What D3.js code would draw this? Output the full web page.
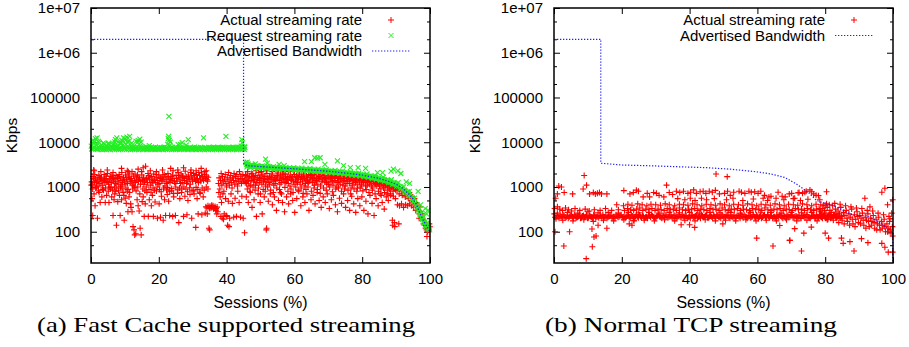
<!DOCTYPE html>
<html>
<head>
<meta charset="utf-8">
<script src="https://cdn.jsdelivr.net/npm/d3@7"></script>
<style>
  body { margin: 0; background: #fff; }
  text { font-family: "Liberation Sans", Arial, sans-serif; fill: #000; }
</style>
</head>
<body>
<div id="chart"></div>
<script>
// tick values + labels
const xTickValues = [0, 20, 40, 60, 80, 100];
const yTickValues = [100, 1000, 10000, 100000, 1000000, 10000000];
const yTickLabels = ['100', '1000', '10000', '100000', '1e+06', '1e+07'];
const yMinorTicks = [50, 200, 500, 2000, 5000, 20000, 50000, 200000, 500000, 2000000, 5000000];

const captions = ['(a) Fast Cache supported streaming', '(b) Normal TCP streaming'];
const fcLegend = ['Actual streaming rate', 'Request streaming rate', 'Advertised Bandwidth'];
const tcpLegend = ['Actual streaming rate', 'Advertised Bandwidth'];

// (a) actual streaming rate, [session %, Kbps]
const fcActual = [
  [0.2,1300],[0.4,1150],[0.6,1700],[0.8,2400],[1.0,1250],[1.3,1450],[1.5,1000],[1.8,1600],[2.0,1350],[2.3,1800],[2.6,1200],[2.8,1500],[3.1,1650],[3.3,1100],[3.6,1400],[3.9,1900],[4.1,1250],[4.4,1550],[4.7,1300],[4.9,2000],[5.2,1150],[5.5,1450],[5.8,1700],[6.0,1250],[6.3,1600],[6.6,1350],[6.9,1000],[7.1,1500],[7.4,1800],[7.7,1300],[8.0,1550],[8.2,1150],[8.5,1700],[8.8,1400],[9.1,2100],[9.3,1250],[9.6,1600],[9.9,1350],[10.2,1850],[10.5,1450],[10.8,1200],[11.1,1650],[11.3,1950],[11.6,1300],[11.9,1550],[12.2,1100],[12.5,1750],[12.8,1400],[13.1,1250],[13.4,1600],[13.7,1850],[14.0,1350],[14.3,1500],[14.6,1150],[14.9,2200],[15.2,1400],[15.5,1650],[15.8,1300],[16.1,2900],[16.4,1550],[16.7,1250],[17.0,1800],[17.3,1450],[17.6,1100],[17.9,1700],[18.2,1350],[18.5,1950],[18.8,1500],[19.1,1250],[19.4,1650],[19.7,1400],[20.0,1850],[20.3,1200],[20.6,1550],[20.9,1350],[21.2,1750],[21.5,1450],[21.8,1050],[22.1,1600],[22.4,1300],[22.7,2000],[23.0,1500],[23.3,1250],[23.6,1700],[23.9,1400],[24.2,2300],[24.5,1550],[24.8,1200],[25.1,1800],[25.4,1350],[25.7,2100],[26.0,1650],[26.3,1450],[26.6,1950],[26.9,1250],[27.2,1600],[27.5,1400],[27.8,2250],[28.1,1700],[28.4,1300],[28.7,1850],[29.0,1500],[29.3,1150],[29.6,1750],[29.9,1450],[30.2,2000],[30.5,1600],[30.8,1350],[31.1,1900],[31.4,1550],[31.7,1250],[32.0,1800],[32.3,1500],[32.6,2050],[32.9,1650],[33.2,1400],[33.5,1900],[33.8,1550],[34.1,1750],[34.4,1350],
  [0.1,1100],[0.7,1550],[1.1,1900],[1.6,1250],[2.1,1050],[2.5,1650],[3.0,1350],[3.5,950],[4.0,1500],[4.5,1750],[5.0,1350],[5.4,1000],[6.2,1850],[6.7,1550],[7.2,1200],[7.8,1650],[8.3,1900],[8.9,1050],[9.4,1450],[10.0,1150],[10.6,1650],[11.0,2200],[11.5,1500],[12.0,1350],[12.6,1050],[13.0,1950],[13.5,1450],[14.1,1650],[14.7,1350],[15.0,1850],[15.6,1150],[16.2,1450],[16.8,2000],[17.4,1650],[18.0,1250],[18.6,1400],[19.2,1900],[19.8,1150],[20.4,1650],[21.0,1450],[21.6,1900],[22.2,1200],[22.8,1700],[23.4,1450],[24.0,1850],[24.6,1300],[25.2,1550],[25.8,1800],[26.4,1200],[27.0,1750],[27.6,1550],[28.2,1200],[28.8,1600],[29.4,2100],[30.0,1350],[30.6,1800],[31.2,1450],[31.8,2100],[32.4,1350],[33.0,1700],[33.6,2200],[34.2,1450],[34.6,1650],
  [0.5,900],[1.7,1000],[2.4,750],[3.4,880],[4.3,950],[5.1,800],[5.9,980],[6.4,850],[7.0,700],[7.6,950],[8.1,820],[8.7,1000],[9.2,900],[9.7,650],[10.3,950],[10.9,880],[11.4,750],[12.3,900],[12.9,980],[13.3,820],[13.8,1000],[14.4,700],[15.3,900],[15.9,820],[16.3,1000],[17.1,880],[17.7,760],[18.3,950],[18.7,850],[19.5,1000],[20.2,880],[20.7,780],[21.4,950],[22.3,860],[22.6,980],[23.1,800],[23.8,920],[24.3,720],[25.0,1000],[25.6,860],[26.1,950],[26.7,750],[27.4,1000],[28.0,900],[28.5,780],[29.1,960],[29.8,850],[30.4,700],[31.0,980],[31.5,880],[32.1,760],[32.8,950],[33.4,850],[34.0,1000],[34.5,900],
  [0.9,2300],[2.9,2200],[4.8,2400],[6.5,2100],[9.0,2600],[10.7,2300],[12.1,2200],[13.9,2500],[15.4,2700],[17.5,2300],[19.3,2200],[21.1,2400],[23.5,2600],[25.6,2400],[27.3,2700],[29.5,2400],[31.0,2300],[32.5,2600],[34.0,2300],
  [0.3,550],[0.5,230],[0.9,700],[1.2,380],[1.4,950],[1.9,200],[2.2,820],[2.7,450],[3.2,600],[3.7,850],[4.2,450],[4.6,650],[5.3,450],[5.7,900],[6.1,600],[6.5,230],[6.8,520],[7.3,800],[7.5,140],[7.9,470],[8.4,650],[8.6,230],[9.0,520],[9.5,750],[9.8,180],[10.1,560],[10.4,430],[10.7,800],[10.9,280],[11.2,600],[11.7,420],[11.8,350],[12.1,280],[12.4,130],[12.7,110],[12.9,85],[13.2,90],[13.6,520],[13.9,380],[14.2,290],[14.5,120],[14.8,85],[15.1,470],[15.4,600],[15.7,220],[16.0,420],[16.5,750],[16.9,220],[17.2,520],[17.8,380],[18.1,650],[18.4,220],[18.9,460],[19.3,810],[19.6,200],[20.1,420],[20.5,210],[20.8,620],[21.3,180],[21.7,520],[22.0,230],[22.5,680],[22.9,480],[23.2,230],[23.7,820],[24.1,220],[24.4,600],[24.9,230],[25.5,720],[25.9,160],[26.2,550],[26.8,900],[27.3,220],[27.7,620],[28.3,240],[28.6,500],[29.2,680],[29.7,200],[30.3,820],[30.9,125],[31.3,550],[31.6,250],[32.2,720],[32.7,240],[33.1,600],[33.7,260],[34.3,250],[34.8,120],[35.0,110],
  [33.9,360],[34.2,340],[34.5,380],[34.8,350],[35.1,370],[35.4,340],[35.7,360],[36.0,380],[36.3,345],[36.6,365],[36.9,330],[37.2,355],[35.0,330],[35.6,390],[36.2,320],[36.8,300],[37.4,280],[37.1,250],
  [37.6,1200],[37.8,1600],[38.0,900],[38.2,1400],[38.4,2000],[38.6,1100],[38.8,1700],[39.0,1300],[39.2,800],[39.4,1500],[39.6,1900],[39.8,1200],[40.0,1000],[40.2,1650],[40.4,1350],[40.6,2100],[40.8,1100],[41.0,1500],[41.2,1800],[41.4,1250],[41.6,950],[41.8,1600],[42.0,1400],[42.2,2000],[42.4,1150],[42.6,1700],[42.8,1350],[43.0,1900],[43.2,1050],[43.4,1550],[43.6,1300],[43.8,2200],[44.0,1450],[44.2,1750],[44.4,1200],[44.6,1550],[44.8,1900],[45.0,1350],
  [37.7,750],[38.1,600],[38.5,450],[38.9,700],[39.3,250],[39.7,550],[40.1,220],[40.5,480],[40.3,140],[40.7,130],[40.9,200],[41.3,700],[41.7,430],[42.1,210],[42.5,560],[42.9,220],[43.3,800],[43.7,450],[44.1,210],[44.5,620],[44.9,200],[45.3,95],[38.3,220],[38.7,200],[39.1,190],[39.9,230],
  [45.4,1500],[45.6,1900],[45.9,1200],[46.2,2200],[46.5,1400],[46.8,1700],[47.1,1100],[47.4,1600],[47.7,1950],[48.0,1300],[48.3,1500],[48.6,1800],[48.9,1250],[49.2,1650],[49.5,2100],[49.8,1400],[50.1,1550],[50.4,1150],[50.7,1850],[51.0,1450],[51.3,1700],[51.6,1300],[51.9,2000],[52.2,1500],[52.5,1250],[52.8,1750],[53.1,1450],[53.4,1950],[53.7,1350],[54.0,1600],[54.3,1200],[54.6,1800],[54.9,1500],[55.2,2050],[55.5,1400],[55.8,1650],[56.1,1250],[56.4,1850],[56.7,1550],[57.0,1350],[57.3,1950],[57.6,1500],[57.9,1700],[58.2,1200],[58.5,1600],[58.8,1850],[59.1,1400],[59.4,1650],[59.7,1300],[60.0,1900],[60.3,1500],[60.6,1750],[60.9,1250],[61.2,1600],[61.5,1950],[61.8,1450],[62.1,1700],[62.4,1300],[62.7,1850],[63.0,1550],[63.3,1200],[63.6,1750],[63.9,1450],[64.2,1900],[64.5,1350],[64.8,1600],[65.1,1800],[65.4,1250],[65.7,1550],[66.0,1850],[66.3,1400],[66.6,1650],[66.9,1150],[67.2,1750],[67.5,1500],[67.8,1900],[68.1,1300],[68.4,1600],[68.7,1800],[69.0,1350],[69.3,1550],[69.6,1150],[69.9,1750],[70.2,1450],[70.5,1850],[70.8,1300],[71.1,1600],[71.4,1100],[71.7,1700],[72.0,1400],[72.3,1800],[72.6,1250],[72.9,1550],[73.2,1700],[73.5,1150],[73.8,1450],[74.1,1750],[74.4,1300],[74.7,1550],[75.0,1050],[75.3,1650],[75.6,1350],[75.9,1700],[76.2,1200],[76.5,1500],[76.8,1650],[77.1,1100],[77.4,1400],[77.7,1600],[78.0,1250],[78.3,1500],[78.6,950],[78.9,1550],[79.2,1300],[79.5,1600],[79.8,1150],[80.1,1450],[80.4,1350],[80.7,1550],[81.0,1050],[81.3,1400],[81.6,1250],[81.9,1500],[82.2,1150],[82.5,1350],[82.8,1450],[83.1,950],[83.4,1300],[83.7,1200],[84.0,1400],[84.3,1050],[84.6,1300],[84.9,1150],[85.2,1350],[85.5,900],[85.8,1250],[86.1,1100],[86.4,1300],[86.7,1000],[87.0,1200],[87.3,1100],[87.6,850],[87.9,1150],[88.2,1050],[88.5,950],[88.8,1100],[89.1,800],[89.4,1000],[89.7,900],
  [45.5,1250],[46.0,1650],[46.6,1050],[47.2,1400],[47.9,1700],[48.5,1100],[49.0,1450],[49.6,1250],[50.2,1850],[50.9,1300],[51.5,1050],[52.0,1550],[52.7,1150],[53.3,1650],[53.9,1100],[54.5,1400],[55.0,1750],[55.7,1150],[56.3,1500],[56.9,1950],[57.5,1250],[58.0,1450],[58.7,1050],[59.3,1700],[59.9,1150],[60.5,1350],[61.0,1650],[61.7,1150],[62.3,1500],[62.9,1050],[63.5,1400],[64.1,1250],[64.7,1850],[65.3,1500],[65.9,1100],[66.5,1350],[67.1,1550],[67.7,1050],[68.3,1450],[68.9,1650],[69.5,1250],[70.1,1150],[70.7,1600],[71.3,1350],[71.9,1550],[72.5,1000],[73.1,1350],[73.7,1550],[74.3,1100],[74.9,1400],[75.5,1200],[76.1,1450],[76.7,950],[77.3,1300],[77.9,1450],[78.5,1150],[79.1,1400],[79.7,1050],[80.3,1250],[80.9,1500],[81.5,1100],[82.1,1300],[82.7,1050],[83.3,1350],[83.9,1150],[84.5,1250],[85.1,1050],[85.7,1200],[86.3,950],[86.9,1100],[87.5,1000],[88.1,900],[88.7,1000],[89.3,950],[89.9,850],
  [45.7,1800],[46.3,1350],[47.3,2000],[48.1,1450],[48.7,2300],[49.7,1600],[50.3,2200],[51.2,1550],[51.7,2300],[52.6,1650],[53.5,2200],[54.2,1500],[55.1,2300],[55.9,1850],[56.6,2200],[57.4,1650],[58.3,2200],[59.0,1500],[59.8,2250],[60.7,1650],[61.4,2200],[62.2,1850],[63.1,2250],[63.8,1650],[64.6,2200],[65.5,1900],[66.4,2250],[67.3,1700],[68.2,2100],[69.1,1600],[70.0,2100],[70.9,1750],[71.8,2000],[72.7,1650],[73.6,2000],[74.5,1800],[75.4,1950],[76.3,1600],[77.2,1900],[78.1,1700],[79.0,1800],[79.9,1500],[80.8,1750],[81.7,1600],[82.6,1700],[83.5,1500],[84.4,1600],[85.3,1450],[86.2,1500],[87.1,1400],[88.0,1350],[88.9,1250],[89.8,1200],
  [46.1,900],[47.0,750],[47.8,1000],[48.4,850],[49.4,950],[50.0,700],[50.8,880],[51.4,800],[52.1,1000],[53.0,850],[53.8,750],[54.8,950],[55.6,880],[56.2,700],[57.2,980],[58.1,800],[59.0,900],[59.6,750],[60.4,1000],[61.1,850],[62.0,950],[62.6,720],[63.4,880],[64.0,1000],[65.0,800],[65.8,950],[66.8,880],[67.6,720],[68.6,950],[69.4,850],[70.4,1000],[71.2,780],[72.2,900],[73.0,950],[73.9,800],[74.8,900],[75.8,850],[76.6,700],[77.6,900],[78.4,800],[79.4,950],[80.2,820],[81.2,880],[82.0,750],[83.0,850],[83.8,700],[84.8,800],[85.6,650],[86.6,750],[87.4,700],[88.4,650],[89.2,620],
  [45.8,600],[46.4,450],[46.9,800],[47.5,350],[48.1,520],[48.8,220],[49.3,700],[49.9,450],[50.5,250],[51.1,600],[51.7,110],[51.8,120],[52.3,480],[52.9,700],[53.5,400],[54.1,600],[54.7,300],[55.3,500],[55.9,750],[56.5,450],[57.1,280],[57.7,600],[58.3,420],[58.9,700],[59.5,500],[60.1,270],[60.7,550],[61.3,800],[61.9,380],[62.5,600],[63.1,450],[63.7,700],[64.3,300],[64.9,520],[65.5,650],[66.1,420],[66.7,750],[67.3,500],[67.9,350],[68.5,600],[69.1,450],[69.7,700],[70.3,330],[70.9,520],[71.5,650],[72.1,400],[72.7,280],[73.3,560],[73.9,430],[74.5,700],[75.1,350],[75.7,500],[76.3,300],[76.9,620],[77.5,420],[78.1,270],[78.7,550],[79.3,380],[79.9,600],[80.5,300],[81.1,480],[81.7,250],[82.3,650],[82.9,430],[83.5,230],[84.1,550],[84.7,380],[85.3,700],[85.9,450],[86.5,320],[87.1,600],[87.7,500],[88.3,700],[88.9,180],[89.5,160],[89.8,550],
  [90.0,1000],[90.3,850],[90.6,950],[90.9,700],[91.2,900],[91.5,800],[91.8,650],[92.1,850],[92.4,750],[92.7,600],[93.0,800],[93.3,700],[93.6,550],[93.9,750],[94.2,650],[94.5,500],[94.8,600],[95.1,450],[95.4,550],[95.7,400],[96.0,450],[96.3,350],[96.6,300],[96.9,250],[97.2,280],[97.5,200],[97.8,180],[98.1,150],[98.4,140],[98.7,120],[99.0,110],[99.3,100],[99.6,110],[99.9,130],
  [90.4,400],[91.0,380],[91.6,420],[92.2,350],[92.8,400],[93.4,380],[94.0,420],[94.6,380],[95.2,350],[95.8,300],[96.4,380],[97.0,360],[97.6,250],[98.0,190],[98.5,160],[99.1,78],[99.4,140],[99.8,150],[89.0,140],[89.6,130],[90.8,150],[96.8,200]
];

// (a) requested streaming rate
const fcRequest = [
  [0.1,8200],[0.4,7400],[0.7,9500],[1.0,7800],[1.3,12000],[1.6,8600],[1.9,7200],[2.2,10500],[2.5,7600],[2.8,8100],[3.1,7300],[3.4,7900],[3.7,7100],[4.0,9200],[4.3,7500],[4.6,8400],[4.9,7700],[5.2,9600],[5.5,7200],[5.8,8000],[6.1,7400],[6.4,8800],[6.7,7600],[7.0,10200],[7.3,7900],[7.6,12500],[7.9,8300],[8.2,7300],[8.5,9500],[8.8,7700],[9.1,11000],[9.4,8600],[9.7,7400],[10.0,12000],[10.3,9000],[10.6,13000],[10.9,8000],[11.2,10500],[11.5,7500],[11.8,8200],[12.1,7300],[12.4,7800],[12.7,7200],[13.0,7600],[13.3,10500],[13.6,7900],[13.9,11000],[14.2,7400],[14.5,8300],[14.8,10000],[15.1,7600],[15.4,7100],[15.7,7700],[16.0,7300],[16.3,7900],[16.6,7200],[16.9,7500],[17.2,8400],[17.5,7300],[17.8,7700],[18.1,7100],[18.4,7600],[18.7,7300],[19.0,7800],[19.3,7200],[19.6,7500],[19.9,7100],[20.2,7700],[20.5,7300],[20.8,7600],[21.1,7200],[21.4,7500],[21.7,7800],[22.0,7300],[22.3,7600],[22.6,9000],[22.9,13500],[23.0,38000],[23.1,11000],[23.3,8500],[23.6,7400],[23.9,7700],[24.2,7200],[24.5,7500],[24.8,7300],[25.1,7800],[25.4,7100],[25.7,8800],[26.0,7400],[26.3,7700],[26.6,7300],[26.9,9800],[27.2,7600],[27.5,7200],[27.8,7500],[28.1,8600],[28.4,7300],[28.7,11500],[29.0,7400],[29.3,7700],[29.6,7200],[29.9,7500],[30.2,7300],[30.5,7800],[30.8,7100],[31.1,7600],[31.4,7300],[31.7,7500],[32.0,7200],[32.3,7700],[32.6,7400],[32.9,7300],[33.2,12500],[33.5,7600],[33.8,7300],[34.1,7500],[34.4,7200],[34.7,7700],[35.0,7400],[35.3,7600],[35.6,7300],[35.9,7500],[36.2,7800],[36.5,7400],[36.8,7600],[37.1,7300],[37.4,7700],[37.7,7500],[38.0,7200],[38.3,7600],[38.6,7400],[38.9,7800],[39.2,7300],[39.5,7600],[39.8,13500],[40.1,7500],[40.4,7300],[40.7,7700],[41.0,7400],[41.3,7600],[41.6,7200],[41.9,7800],[42.2,7500],[42.5,7300],[42.8,7700],[43.1,7400],[43.4,7600],[43.7,7800],[44.0,7500],[44.3,8200],[44.6,9800],[44.9,7600],[45.2,7900],[45.4,7700],
  [0.2,7000],[0.9,7300],[1.5,7100],[2.0,6900],[2.7,7000],[3.3,6800],[3.9,7000],[4.5,6900],[5.1,7000],[5.7,6800],[6.3,7100],[6.9,6900],[7.5,7000],[8.1,6800],[8.7,7000],[9.3,6900],[9.9,7100],[10.5,6900],[11.1,7000],[11.7,6800],[12.3,7000],[12.9,6900],[13.5,7000],[14.1,6800],[14.7,7000],[15.3,6900],[15.9,7000],[16.5,6800],[17.1,7000],[17.7,6900],[18.3,7000],[18.9,6800],[19.5,7000],[20.1,6900],[20.7,7000],[21.3,6800],[21.9,7000],[22.5,6900],[23.2,7000],[23.8,6800],[24.4,7000],[25.0,6900],[25.6,7000],[26.2,6800],[26.8,7000],[27.4,6900],[28.0,7000],[28.6,6800],[29.2,7000],[29.8,6900],[30.4,7000],[31.0,6800],[31.6,7000],[32.2,6900],[32.8,7000],[33.4,6800],[34.0,7000],[34.6,6900],[35.2,7000],[35.8,6800],[36.4,7000],[37.0,6900],[37.6,7000],[38.2,6800],[38.8,7000],[39.4,6900],[40.0,7000],[40.6,6800],[41.2,7000],[41.8,6900],[42.4,7000],[43.0,6800],[43.6,7000],[44.2,6900],[44.8,7000],[45.3,6900],
  [0.5,11000],[1.1,10500],[1.8,12500],[2.4,9800],[3.6,9500],[5.3,8900],[6.8,9200],[7.2,11500],[8.0,10000],[9.0,9700],[9.6,12500],[10.2,11000],[10.8,10200],[11.4,13500],[12.0,9500],[13.8,10000],[14.4,11800],[22.8,12000],[23.4,10000],[44.5,11500],[26.4,9000],
  [45.6,3500],[45.9,3200],[46.2,3100],[46.5,3000],[46.8,2950],[47.1,3050],[47.4,2900],[47.7,2950],[48.0,2900],[48.4,2850],[48.8,2900],[49.2,2850],[49.6,2800],[50.0,2850],[50.4,2800],[50.8,2750],[51.2,2800],[51.6,2750],[52.0,2750],[52.4,2700],[52.8,2750],[53.2,2700],[53.6,2700],[54.0,2650],[54.4,2700],[54.8,2650],[55.2,2650],[55.6,2650],[56.0,2600],[56.4,2650],[56.8,2600],[57.2,2600],[57.6,2600],[58.0,2550],[58.4,2600],[58.8,2550],[59.2,2550],[59.6,2550],[60.0,2500],[60.4,2550],[60.8,2500],[61.2,2500],[61.6,2500],[62.0,2450],[62.4,2500],[62.8,2450],[63.2,2450],[63.6,2400],[64.0,2450],[64.4,2400],[64.8,2400],[65.2,2400],[65.6,2350],[66.0,2400],[66.4,2350],[66.8,2350],[67.2,2300],[67.6,2350],[68.0,2300],[68.4,2300],[68.8,2250],[69.2,2300],[69.6,2250],[70.0,2250],[70.4,2200],[70.8,2250],[71.2,2200],[71.6,2200],[72.0,2150],[72.4,2200],[72.8,2150],[73.2,2100],[73.6,2150],[74.0,2100],[74.4,2100],[74.8,2050],[75.2,2050],[75.6,2000],[76.0,2050],[76.4,2000],[76.8,1950],[77.2,2000],[77.6,1950],[78.0,1900],[78.4,1950],[78.8,1900],[79.2,1850],[79.6,1900],[80.0,1850],[80.4,1800],[80.8,1800],[81.2,1750],[81.6,1750],[82.0,1700],[82.4,1700],[82.8,1650],[83.2,1650],[83.6,1600],[84.0,1600],[84.4,1550],[84.8,1550],[85.2,1500],[85.6,1500],[86.0,1450],[86.4,1450],[86.8,1400],[87.2,1380],[87.6,1350],[88.0,1300],[88.4,1280],[88.8,1250],[89.2,1200],[89.6,1180],[90.0,1150],[90.4,1100],[90.8,1050],[91.2,1000],[91.6,950],[92.0,900],[92.4,850],[92.8,800],[93.2,760],[93.6,700],[94.0,650],[94.4,600],[94.8,540],[95.2,480],[95.6,430],[96.0,390],[96.3,350],[96.6,310],[96.9,270],[97.2,240],[97.5,210],[97.8,190],[98.1,170],[98.4,155],[98.7,140],[99.0,130],[99.3,120],[99.6,115],[99.9,110],
  [46.0,2800],[47.0,2750],[48.2,2700],[49.4,2650],[50.6,2600],[51.8,2600],[53.0,2550],[54.2,2500],[55.4,2500],[56.6,2450],[57.8,2450],[59.0,2400],[60.2,2350],[61.4,2350],[62.6,2300],[63.8,2300],[65.0,2250],[66.2,2200],[67.4,2200],[68.6,2150],[69.8,2100],[71.0,2100],[72.2,2050],[73.4,2000],[74.6,1950],[75.8,1900],[77.0,1850],[78.2,1800],[79.4,1750],[80.6,1700],[81.8,1650],[83.0,1550],[84.2,1500],[85.4,1400],[86.6,1350],[87.8,1250],[89.0,1150],[90.2,1050],[91.4,930],[92.6,780],[93.8,640],[95.0,470],[96.2,340],[97.0,250],[97.7,195],[98.3,160],[99.0,140],[99.7,120],
  [46.3,3300],[47.5,3100],[49.0,3000],[50.5,2950],[52.2,2900],[53.8,2850],[55.8,2800],[57.5,2750],[59.8,2700],[62.2,2650],[64.6,2600],[67.0,2500],[69.4,2450],[72.0,2350],[74.2,2250],[76.6,2150],[79.0,2050],[81.4,1950],[83.8,1800],[86.2,1650],[88.6,1450],[90.6,1250],[92.2,1000],[93.9,800],[95.4,560],[96.8,330],[98.0,220],[99.2,160],
  [46.1,3600],[48.5,3300],[51.5,4200],[52.0,3400],[55.5,3200],[57.0,3000],[63.0,3700],[65.0,3700],[66.0,4500],[66.8,4400],[67.6,4500],[69.0,3200],[72.7,3850],[74.5,3000],[76.5,2700],[78.8,2700],[81.0,2600],[84.5,2100],[86.0,2100],[88.5,2250],[89.2,2500],[90.5,2300],[91.4,2000],[93.0,1300],[94.0,1200],[96.5,800],[97.2,400],[98.6,330],[99.4,300],[99.0,250]
];

// (a) advertised bandwidth
const fcBandwidth = [
  [0,2000000],[45,2000000],[45,3400],[46,3000],[50,2850],[60,2550],[70,2250],[75,2050],[80,1850],[85,1550],[88,1320],[90,1150],[92,930],[94,660],[95,540],[96,400],[97,260],[98,180],[99,135],[100,100]
];

// (b) actual streaming rate
const tcpActual = [
  [0.3,210],[0.9,230],[1.5,200],[2.1,220],[2.7,240],[3.3,205],[3.9,225],[4.5,215],[5.1,235],[5.7,200],[6.3,220],[6.9,210],[7.5,245],[8.1,205],[8.7,230],[9.3,215],[9.9,200],[10.5,225],[11.1,210],[11.7,240],[12.3,205],[12.9,220],[13.5,230],[14.1,200],[14.7,215],[15.3,235],[15.9,210],[16.5,225],[17.1,200],[17.7,220],[18.3,240],[18.9,210],[19.5,230],[20.1,205],[20.7,220],[21.3,215],[21.9,235],[22.5,200],[23.1,225],[23.7,210],[24.3,240],[24.9,205],[25.5,220],[26.1,230],[26.7,200],[27.3,215],[27.9,235],[28.5,210],[29.1,225],[29.7,200],[30.3,220],[30.9,240],[31.5,210],[32.1,230],[32.7,205],[33.3,220],[33.9,215],[34.5,235],[35.1,200],[35.7,225],[36.3,210],[36.9,240],[37.5,205],[38.1,220],[38.7,230],[39.3,200],[39.9,215],[40.5,235],[41.1,210],[41.7,225],[42.3,200],[42.9,220],[43.5,240],[44.1,210],[44.7,230],[45.3,205],[45.9,220],[46.5,215],[47.1,235],[47.7,200],[48.3,225],[48.9,210],[49.5,240],[50.1,205],[50.7,220],[51.3,230],[51.9,200],[52.5,215],[53.1,235],[53.7,210],[54.3,225],[54.9,200],[55.5,220],[56.1,240],[56.7,210],[57.3,230],[57.9,205],[58.5,220],[59.1,215],[59.7,235],[60.3,200],[60.9,225],[61.5,210],[62.1,240],[62.7,205],[63.3,220],[63.9,230],[64.5,200],[65.1,215],[65.7,235],[66.3,210],[66.9,225],[67.5,200],[68.1,220],[68.7,240],[69.3,210],[69.9,230],[70.5,205],[71.1,220],[71.7,215],[72.3,235],[72.9,200],[73.5,225],[74.1,210],[74.7,240],[75.3,205],[75.9,220],[76.5,230],[77.1,200],[77.7,215],[78.3,235],[78.9,210],[79.5,225],[80.1,200],[80.7,220],[81.3,240],[81.9,210],[82.5,230],[83.1,205],[83.7,220],[84.3,215],
  [0.6,195],[1.2,215],[1.8,240],[2.4,205],[3.0,225],[3.6,210],[4.2,200],[4.8,230],[5.4,215],[6.0,240],[6.6,205],[7.2,220],[7.8,200],[8.4,225],[9.0,210],[9.6,235],[10.2,205],[10.8,220],[11.4,200],[12.0,230],[12.6,215],[13.2,205],[13.8,225],[14.4,240],[15.0,210],[15.6,200],[16.2,220],[16.8,235],[17.4,210],[18.0,200],[18.6,225],[19.2,215],[19.8,240],[20.4,210],[21.0,200],[21.6,225],[22.2,210],[22.8,240],[23.4,200],[24.0,220],[24.6,215],[25.2,235],[25.8,205],[26.4,220],[27.0,210],[27.6,200],[28.2,225],[28.8,240],[29.4,210],[30.0,205],[30.6,230],[31.2,215],[31.8,200],[32.4,225],[33.0,240],[33.6,205],[34.2,220],[34.8,210],[35.4,235],[36.0,200],[36.6,220],[37.2,215],[37.8,240],[38.4,205],[39.0,225],[39.6,210],[40.2,200],[40.8,230],[41.4,215],[42.0,240],[42.6,210],[43.2,200],[43.8,225],[44.4,215],[45.0,235],[45.6,205],[46.2,225],[46.8,200],[47.4,220],[48.0,240],[48.6,210],[49.2,200],[49.8,225],[50.4,215],[51.0,240],[51.6,205],[52.2,225],[52.8,210],[53.4,200],[54.0,230],[54.6,215],[55.2,240],[55.8,205],[56.4,220],[57.0,200],[57.6,225],[58.2,210],[58.8,240],[59.4,205],[60.0,220],[60.6,215],[61.2,200],[61.8,230],[62.4,210],[63.0,240],[63.6,205],[64.2,225],[64.8,215],[65.4,200],[66.0,220],[66.6,240],[67.2,210],[67.8,230],[68.4,200],[69.0,225],[69.6,215],[70.2,240],[70.8,205],[71.4,225],[72.0,210],[72.6,200],[73.2,230],[73.8,215],[74.4,240],[75.0,210],[75.6,200],[76.2,225],[76.8,215],[77.4,240],[78.0,205],[78.6,220],[79.2,210],[79.8,235],[80.4,205],[81.0,225],[81.6,200],[82.2,215],[82.8,240],[83.4,210],[84.0,225],[84.6,200],
  [1.0,260],[2.6,180],[4.0,270],[5.6,175],[7.0,260],[8.8,185],[10.0,280],[11.6,170],[13.0,265],[14.6,180],[16.0,270],[17.6,175],[19.0,260],[20.6,185],[22.0,270],[23.6,175],[25.0,265],[26.6,180],[28.0,270],[29.6,175],[31.0,260],[32.6,185],[34.0,270],[35.6,175],[37.0,265],[38.6,180],[40.0,270],[41.6,175],[43.0,260],[44.6,185],[46.0,270],[47.6,175],[49.0,265],[50.6,180],[52.0,270],[53.6,175],[55.0,260],[56.6,185],[58.0,270],[59.6,175],[61.0,265],[62.6,180],[64.0,270],[65.6,175],[67.0,260],[68.6,185],[70.0,270],[71.6,175],[73.0,265],[74.6,180],[76.0,270],[77.6,175],[79.0,260],[80.6,185],
  [0.2,330],[1.0,360],[1.7,320],[2.5,300],[3.4,340],[4.3,310],[5.2,290],[6.2,330],[7.6,300],[9.2,320],[10.4,290],[11.9,310],[13.6,300],[15.2,330],[17.0,300],[19.0,310],[20.8,300],[21.7,330],[22.6,310],[23.5,300],[24.4,320],[25.3,340],[26.2,300],[27.1,320],[28.0,310],[28.9,330],[29.8,300],[30.7,320],[31.6,310],[32.5,300],[33.4,330],[34.3,310],[35.2,320],[36.1,300],[37.0,340],[37.9,310],[38.8,300],[39.7,320],[40.6,310],[41.5,330],[42.4,300],[43.3,320],[44.2,310],[45.1,300],[46.0,330],[46.9,310],[47.8,320],[48.7,300],[49.6,340],[50.5,310],[51.4,300],[52.3,320],[53.2,310],[54.1,330],[55.0,300],[55.9,320],[56.8,310],[57.7,300],[58.6,330],[59.5,310],[60.4,320],[61.3,300],[62.2,340],[63.1,310],[64.0,300],[64.9,320],[65.8,310],[66.7,330],[67.6,300],[68.5,320],[69.4,310],[70.3,300],[71.2,330],[72.1,310],[73.0,320],[73.9,300],[74.8,330],[75.7,310],[76.6,300],[77.5,320],[78.4,310],[79.3,330],
  [18.5,400],[20.5,380],[21.8,410],[23.0,390],[24.7,420],[26.0,400],[27.4,380],[28.6,410],[30.0,400],[31.4,390],[32.8,420],[34.0,400],[35.6,380],[37.0,410],[38.2,400],[39.5,390],[40.9,420],[42.2,400],[43.6,380],[44.9,410],[46.3,400],[47.6,390],[49.0,420],[50.3,400],[51.7,380],[53.0,410],[54.4,400],[55.7,390],[57.1,420],[58.4,400],[59.8,380],[61.1,410],[62.5,400],[63.8,390],[65.2,420],[66.5,400],[67.9,380],[69.2,410],[70.6,400],[71.9,390],[73.3,420],[74.6,400],[76.0,380],[77.3,410],[78.7,400],[80.0,390],
  [0.5,560],[1.0,700],[1.4,1050],[2.2,1000],[3.0,750],[5.5,700],[8.6,900],[8.9,1800],[9.6,1100],[10.5,700],[11.6,750],[12.2,700],[12.8,720],[13.4,750],[14.0,700],[15.6,700],[20.6,830],[22.4,700],[23.4,750],[24.3,850],[24.9,800],[26.3,600],[27.5,720],[28.2,600],[29.4,750],[30.2,720],[31.0,650],[32.4,600],[33.2,1100],[34.0,750],[35.0,680],[36.1,800],[37.1,750],[38.2,800],[39.5,720],[40.3,760],[41.2,860],[42.0,720],[43.1,780],[44.0,800],[44.8,720],[45.8,800],[46.7,760],[47.6,840],[47.8,1950],[48.8,700],[50.3,720],[51.1,1700],[51.2,800],[52.0,650],[53.0,760],[54.6,800],[55.3,760],[56.3,720],[57.5,800],[58.2,760],[59.2,780],[60.2,720],[61.0,800],[62.1,650],[63.4,600],[64.0,620],[66.1,760],[67.3,620],[68.2,600],[69.4,700],[70.1,720],[71.0,560],[72.3,750],[73.3,720],[74.4,800],[75.5,860],[76.6,700],[77.3,650],[78.0,640],
  [36.5,550],[38.6,520],[40.2,560],[41.6,500],[43.5,560],[45.0,520],[47.3,550],[50.9,520],[52.8,560],[55.7,500],[58.8,540],[61.7,560],[63.0,500],[65.5,560],[67.8,520],[70.6,550],[72.7,500],[74.9,530],[78.4,520],
  [0.1,250],[0.3,100],[2.9,48],[4.6,100],[9.5,25],[11.3,46],[11.2,115],[11.8,76],[12.4,80],[13.0,140],[15.6,120],[22.2,150],[23.0,140],[23.5,180],[37.5,143],[40.0,143],[41.5,125],[49.8,150],[59.8,72],[64.6,48],[66.6,138],[69.5,64],[69.6,64],[71.0,117],[73.0,37],[73.7,93],[75.9,127],[80.0,93],[81.0,72],
  [78.2,330],[78.6,280],[79.0,240],[79.4,380],[79.8,300],[80.2,260],[80.6,350],[81.0,220],[81.4,300],[81.8,270],[82.2,380],[82.6,240],[83.0,320],[83.4,200],[83.8,290],[84.2,250],[84.6,350],[85.0,180],[85.4,270],[85.8,230],[86.2,300],[86.6,170],[87.0,250],[87.4,210],[87.8,320],[88.2,150],[88.6,240],[89.0,190],[89.4,280],[89.8,160],[90.2,230],[90.6,200],[91.0,260],[91.4,140],[91.8,210],[92.2,180],[92.6,250],[93.0,130],[93.4,200],[93.8,170],[94.2,230],[94.6,120],[95.0,190],[95.4,150],[95.8,210],[96.2,110],[96.6,170],[97.0,140],[97.4,190],[97.8,100],[98.2,150],[98.6,120],[99.0,170],[99.4,90],[99.8,130],
  [78.4,220],[79.2,200],[80.0,210],[80.8,190],[81.6,230],[82.4,180],[83.2,260],[84.0,160],[84.8,220],[85.6,150],[86.4,200],[87.2,140],[88.0,190],[88.8,130],[89.6,220],[90.4,150],[91.2,180],[92.0,120],[92.8,170],[93.6,140],[94.4,160],[95.2,110],[96.0,140],[96.8,120],[97.6,130],[98.4,100],[99.2,110],[99.9,80],
  [80.4,420],[81.2,400],[82.8,430],[84.4,410],[86.0,380],[87.6,360],[89.2,340],[90.8,330],[92.4,300],[94.0,290],[95.6,260],[97.2,240],[98.8,220],[99.6,260],
  [84.8,72],[85.3,55],[87.3,60],[88.5,37],[90.7,70],[92.6,57],[96.7,55],[97.6,45],[98.6,35],[91.7,560],[93.2,360],[96.7,760],[97.6,935],[99.9,520],[98.4,400],[99.1,195],[99.9,35],[80.4,785],[76.0,780],[74.0,760],[72.0,740]
];

// (b) advertised bandwidth
const tcpBandwidth = [
  [0,2000000],[13.8,2000000],[13.8,3400],[20,3100],[30,2950],[37,2825],[45,2700],[52,2500],[59.7,2190],[64,1950],[68,1640],[71.5,1170],[75,760],[77.4,500],[80,430],[82.3,385],[85.3,300],[88.3,232],[92.2,226],[95.2,178],[98.6,117],[99.9,100],[100,21]
];

const width = 909;
const height = 347;
const plotTop = 8, plotBottom = 263;

const svg = d3.select('#chart').append('svg')
  .attr('width', width)
  .attr('height', height);

const y = d3.scaleLog().domain([20, 1e7]).range([plotBottom, plotTop]);

const plusPath = 'M-3,0H3M0,-3V3';
const crossPath = 'M-2.5,-2.5L2.5,2.5M-2.5,2.5L2.5,-2.5';
const RED = '#ff0000', GREEN = '#22ee22', BLUE = '#2020ff';

function styleAxis(g, showText) {
  g.select('.domain').remove();
  g.selectAll('line').attr('stroke', '#000').attr('stroke-width', 1);
  if (showText) {
    g.selectAll('text').attr('font-size', '15px').attr('font-family', '"Liberation Sans", Arial, sans-serif');
  } else {
    g.selectAll('text').remove();
  }
}

function drawPanel(left, right, series, line, legendLabels, legendRight, caption, captionX, captionLen) {
  const x = d3.scaleLinear().domain([0, 100]).range([left, right]);
  const g = svg.append('g');

  // axes (ticks point inward, gnuplot style)
  g.append('g').attr('transform', `translate(${left},0)`)
    .call(d3.axisLeft(y).tickValues(yTickValues).tickFormat((d, i) => yTickLabels[i]).tickSize(-6).tickPadding(11))
    .call(a => styleAxis(a, true));
  g.append('g').attr('transform', `translate(${left},0)`)
    .call(d3.axisLeft(y).tickValues(yMinorTicks).tickSize(-3))
    .call(a => styleAxis(a, false));
  g.append('g').attr('transform', `translate(${right},0)`)
    .call(d3.axisRight(y).tickValues(yTickValues).tickSize(-6))
    .call(a => styleAxis(a, false));
  g.append('g').attr('transform', `translate(${right},0)`)
    .call(d3.axisRight(y).tickValues(yMinorTicks).tickSize(-3))
    .call(a => styleAxis(a, false));
  g.append('g').attr('transform', `translate(0,${plotBottom})`)
    .call(d3.axisBottom(x).tickValues(xTickValues).tickSize(-6).tickPadding(10.5))
    .call(a => styleAxis(a, true));
  g.append('g').attr('transform', `translate(0,${plotTop})`)
    .call(d3.axisTop(x).tickValues(xTickValues).tickSize(-6))
    .call(a => styleAxis(a, false));

  // points
  const marks = [[RED, plusPath], [GREEN, crossPath]];
  series.forEach((data, i) => {
    g.append('g').selectAll('path')
      .data(data)
      .join('path')
      .attr('d', marks[i][1])
      .attr('transform', d => `translate(${x(d[0])},${y(d[1])})`)
      .attr('fill', 'none')
      .attr('stroke', marks[i][0])
      .attr('stroke-width', 1.1);
  });

  g.append('path')
    .datum(line)
    .attr('d', d3.line().x(d => x(d[0])).y(d => y(d[1])))
    .attr('fill', 'none')
    .attr('stroke', BLUE)
    .attr('stroke-width', 1.2)
    .attr('stroke-dasharray', '1.3,1.7');

  // frame
  g.append('rect')
    .attr('x', left).attr('y', plotTop)
    .attr('width', right - left).attr('height', plotBottom - plotTop)
    .attr('fill', 'none').attr('stroke', '#000').attr('stroke-width', 1.5);

  // legend
  legendLabels.forEach((label, i) => {
    const ly = 20 + i * 15.5;
    g.append('text')
      .attr('x', legendRight).attr('y', ly + 5)
      .attr('text-anchor', 'end')
      .attr('font-size', '15px')
      .text(label);
    if (i < series.length) {
      g.append('path')
        .attr('d', marks[i][1])
        .attr('transform', `translate(${legendRight + 29},${ly})`)
        .attr('fill', 'none').attr('stroke', marks[i][0]);
    } else {
      g.append('line')
        .attr('x1', legendRight + 10).attr('x2', legendRight + 49)
        .attr('y1', ly).attr('y2', ly)
        .attr('stroke', BLUE).attr('stroke-width', 1.2)
        .attr('stroke-dasharray', '1.3,1.7');
    }
  });

  // axis titles
  g.append('text')
    .attr('transform', `translate(${left - 74},${(plotTop + plotBottom) / 2}) rotate(-90)`)
    .attr('text-anchor', 'middle')
    .attr('font-size', '15.5px')
    .text('Kbps');
  g.append('text')
    .attr('x', (left + right) / 2).attr('y', 307.5)
    .attr('text-anchor', 'middle')
    .attr('font-size', '16px')
    .text('Sessions (%)');

  g.append('text')
    .attr('x', captionX).attr('y', 332)
    .attr('text-anchor', 'middle')
    .attr('font-size', '22px')
    .attr('textLength', captionLen)
    .attr('lengthAdjust', 'spacingAndGlyphs')
    .style('font-family', '"Liberation Serif", "Times New Roman", serif')
    .text(caption);
}

drawPanel(91, 430, [fcActual, fcRequest], fcBandwidth, fcLegend, 362, captions[0], 226, 378);
drawPanel(554, 893, [tcpActual], tcpBandwidth, tcpLegend, 825, captions[1], 691, 292);
</script>
</body>
</html>
